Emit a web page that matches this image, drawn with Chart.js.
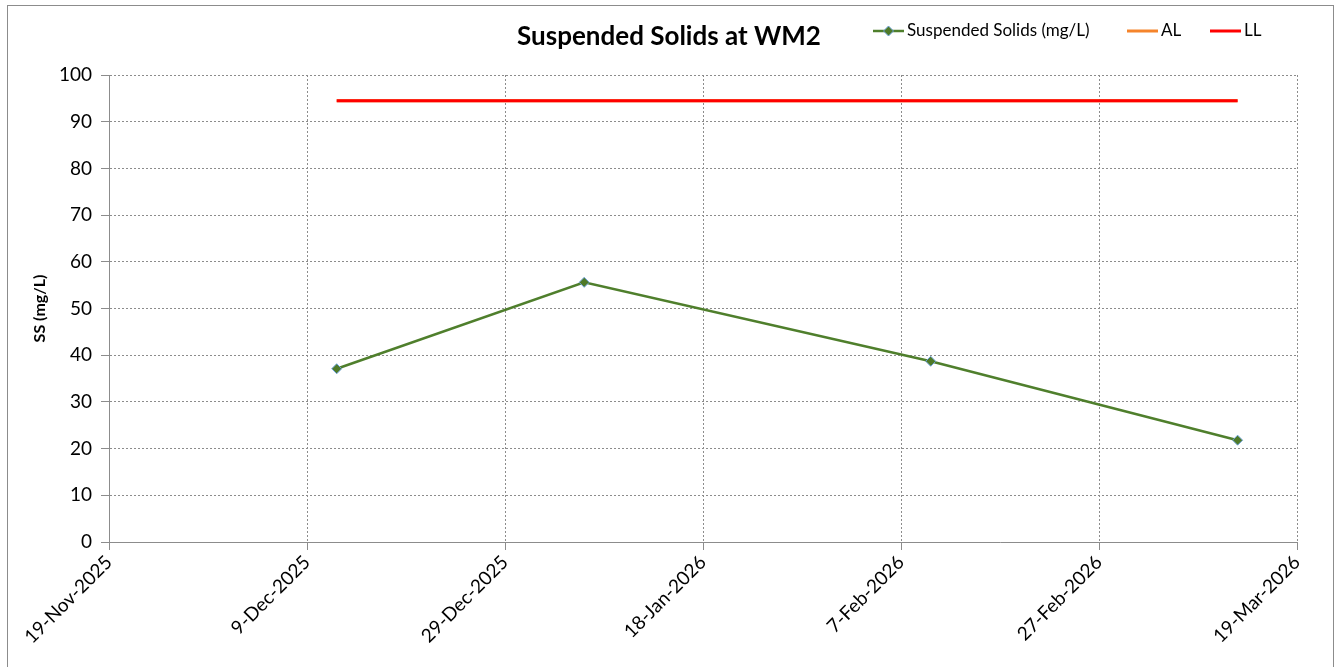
<!DOCTYPE html>
<html lang="en">

<head>
    <meta charset="UTF-8">
    <title>Suspended Solids at WM2</title>
    <script src="https://cdn.jsdelivr.net/npm/chart.js"></script>
    <style>
        html, body { margin: 0; padding: 0; background: #fff; }
        .quadro { position: relative; width: 1340px; height: 667px; overflow: hidden; }
        .borda { position: absolute; left: 7px; top: 5px; width: 1325px; height: 700px; border: 1px solid #8c8c8c; }
        canvas { position: absolute; left: 0; top: 0; }
    </style>
</head>

<body>
    <div class="quadro">
        <div class="borda"></div>
        <canvas id="ssChart" width="1340" height="667"></canvas>
    </div>

<script>
    // dados
    const datasAmostra = ['2025-12-12', '2026-01-06', '2026-02-10', '2026-03-13'];
    const valoresSS = [37.1, 55.6, 38.7, 21.8];
    const valoresAL = [94.5, 94.5, 94.5, 94.5];
    const valoresLL = [94.5, 94.5, 94.5, 94.5];

    const inicioEixo = '2025-11-19';
    const fimEixo = '2026-03-19';
    const passoDias = 20;
    const yMin = 0, yMax = 100, yPasso = 10;

    const meses = ['Jan', 'Feb', 'Mar', 'Apr', 'May', 'Jun', 'Jul', 'Aug', 'Sep', 'Oct', 'Nov', 'Dec'];
    const DIA = 86400000;

    function utc(s) {
        const p = s.split('-');
        return Date.UTC(+p[0], +p[1] - 1, +p[2]);
    }
    function paraDias(s) {
        return (utc(s) - utc(inicioEixo)) / DIA;
    }
    function formatarData(dias) {
        const d = new Date(utc(inicioEixo) + dias * DIA);
        return d.getUTCDate() + '-' + meses[d.getUTCMonth()] + '-' + d.getUTCFullYear();
    }
    const pontos = (vals) => datasAmostra.map((d, i) => ({ x: paraDias(d), y: vals[i] }));

    const fonte = 'Lato, "Open Sans", sans-serif';

    // título e legenda desenhados na mesma linha (como no Excel)
    const tituloLegenda = {
        id: 'tituloLegenda',
        afterDraw(chart) {
            const ctx = chart.ctx;
            ctx.save();
            ctx.fillStyle = '#000';
            ctx.font = 'bold 26px ' + fonte;
            ctx.textAlign = 'center';
            ctx.textBaseline = 'middle';
            ctx.fillText('Suspended Solids at WM2', 669, 37);

            const itens = [
                { ds: chart.data.datasets[0], x: 873 },
                { ds: chart.data.datasets[1], x: 1127 },
                { ds: chart.data.datasets[2], x: 1210 }
            ];
            ctx.font = '17px ' + fonte;
            ctx.textAlign = 'left';
            itens.forEach(it => {
                ctx.strokeStyle = it.ds.borderColor;
                ctx.lineWidth = it.ds.borderWidth;
                ctx.beginPath();
                ctx.moveTo(it.x, 31);
                ctx.lineTo(it.x + 31, 31);
                ctx.stroke();
                if (it.ds.pointRadius > 0) {
                    const cx = it.x + 15.5, r = 5;
                    ctx.fillStyle = it.ds.pointBackgroundColor;
                    ctx.strokeStyle = it.ds.pointBorderColor;
                    ctx.lineWidth = 1;
                    ctx.beginPath();
                    ctx.moveTo(cx, 31 - r); ctx.lineTo(cx + r, 31); ctx.lineTo(cx, 31 + r); ctx.lineTo(cx - r, 31);
                    ctx.closePath();
                    ctx.fill(); ctx.stroke();
                }
                ctx.fillStyle = '#000';
                ctx.fillText(it.ds.label, it.x + 34, 31);
            });
            ctx.restore();
        }
    };

    const grade = { color: '#8c8c8c', tickColor: '#8c8c8c', tickLength: 8, lineWidth: 1 };

    new Chart(document.getElementById('ssChart'), {
        type: 'line',
        data: {
            datasets: [{
                label: 'Suspended Solids (mg/L)',
                data: pontos(valoresSS),
                borderColor: '#4f7f2c',
                borderWidth: 2.5,
                pointStyle: 'rectRot',
                pointRadius: 5,
                pointBackgroundColor: '#4f7a28',
                pointBorderColor: '#6fa3dc',
                pointBorderWidth: 1,
                order: 0
            }, {
                label: 'AL',
                data: pontos(valoresAL),
                borderColor: '#f5842b',
                borderWidth: 3,
                pointRadius: 0,
                order: 2
            }, {
                label: 'LL',
                data: pontos(valoresLL),
                borderColor: '#ff0000',
                borderWidth: 3,
                pointRadius: 0,
                order: 1
            }]
        },
        options: {
            responsive: false,
            animation: false,
            layout: { padding: { left: 0, right: 43, top: 75, bottom: 0 } },
            plugins: {
                legend: { display: false },
                title: { display: false },
                tooltip: { enabled: false }
            },
            scales: {
                x: {
                    type: 'linear',
                    min: 0,
                    max: paraDias(fimEixo),
                    afterFit: (s) => { s.height = 125; },
                    afterBuildTicks: (s) => {
                        s.ticks = [];
                        for (let v = 0; v <= paraDias(fimEixo); v += passoDias) s.ticks.push({ value: v });
                    },
                    grid: grade,
                    border: { display: true, color: '#8c8c8c', width: 1, dash: [2, 2] },
                    ticks: {
                        color: '#000',
                        font: { family: fonte, size: 19 },
                        minRotation: 45,
                        maxRotation: 45,
                        padding: 1,
                        callback: (v) => formatarData(v)
                    }
                },
                y: {
                    min: yMin,
                    max: yMax,
                    afterFit: (s) => { s.width = 109; },
                    grid: grade,
                    border: { display: true, color: '#8c8c8c', width: 1, dash: [2, 2] },
                    ticks: {
                        stepSize: yPasso,
                        color: '#000',
                        font: { family: fonte, size: 19 },
                        padding: 9
                    },
                    title: {
                        display: true,
                        text: 'SS (mg/L)',
                        color: '#000',
                        font: { family: fonte, size: 16, weight: 'bold' },
                        padding: { top: 30, bottom: 0 }
                    }
                }
            }
        },
        plugins: [tituloLegenda]
    });
</script>
</body>

</html>
